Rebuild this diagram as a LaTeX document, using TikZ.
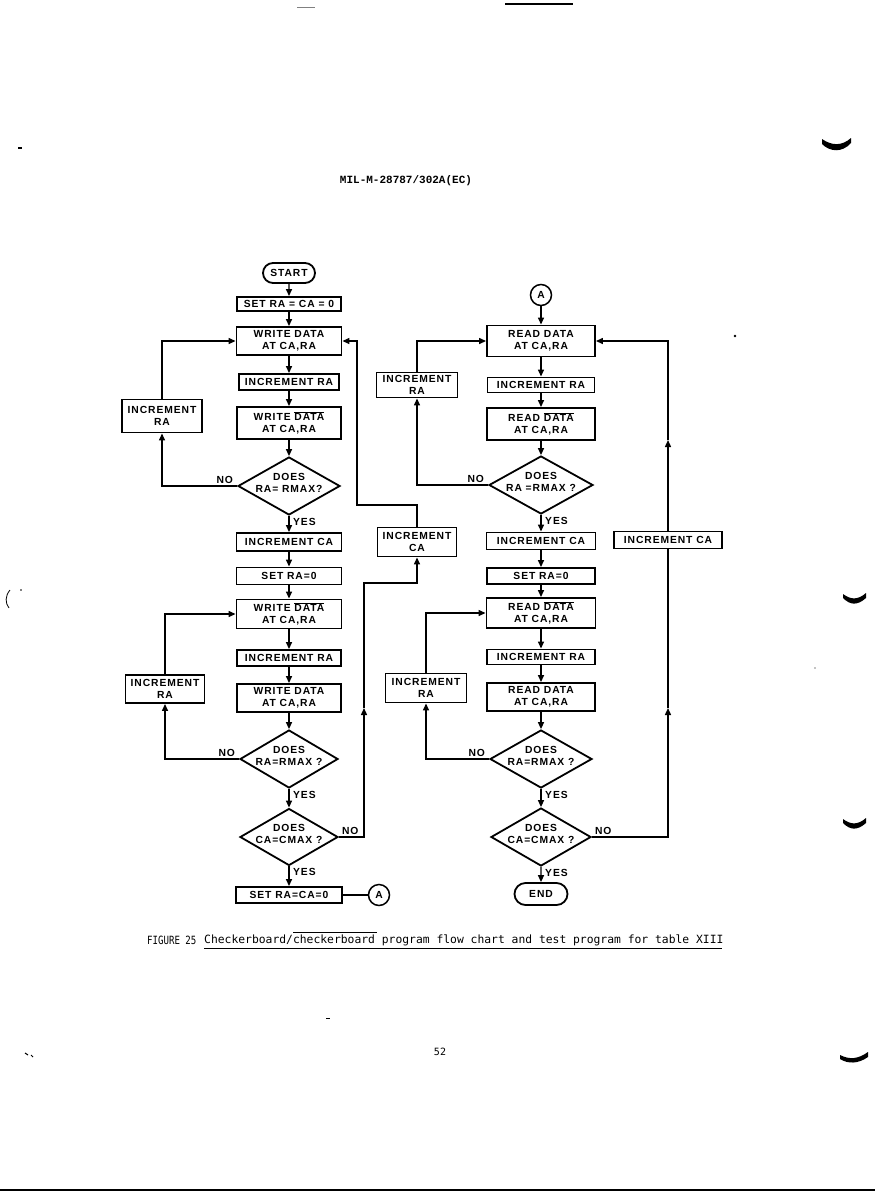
\documentclass[tikz,border=0pt]{standalone}
\usepackage{fontspec}
\newfontfamily\chartfont{Liberation Sans}[LetterSpace=9]
\newfontfamily\capfont{DejaVu Sans Mono}
\newfontfamily\hdrfont{Liberation Mono}
\usetikzlibrary{arrows.meta,shapes.geometric,shapes.misc}
\newcommand\chartsty{\chartfont\bfseries\fontsize{10.3}{11.8}\selectfont}
\newcommand\ovbar[1]{\vbox{\hrule height 0.8pt\kern1.2pt\hbox{#1}}}
\begin{document}
\begin{tikzpicture}[x=1pt,y=-1pt,
  box/.style={draw, line width=1.9pt, inner sep=0pt, align=center, font=\chartsty, fill=white},
  term/.style={draw, line width=1.8pt, rounded rectangle, inner sep=0pt, font=\chartsty},
  dia/.style={draw, diamond, line width=1.8pt, inner sep=0pt},
  conn/.style={draw, circle, line width=1.5pt, inner sep=0pt, minimum size=21pt, font=\chartsty},
  lbl/.style={font=\chartsty, inner sep=0pt, align=center},
  sz/.style 2 args={minimum width=#1pt, minimum height=#2pt},
  ln/.style={line width=1.4pt},
  arr/.style={line width=1.4pt, -{Triangle[length=7pt,width=6pt]}},
]
\useasboundingbox (0,0) rectangle (875,1192);
\fill[white] (0,0) rectangle (875,1192);

% header, caption, page number
\node[font=\hdrfont\bfseries\fontsize{11}{13}\selectfont, inner sep=0pt] (hdr) at (406,181) {MIL-M-28787/302A(EC)};
\node[font=\capfont\fontsize{11.35}{13}\selectfont, inner sep=0pt, anchor=west] (fig) at (147,940) {\scalebox{0.8}[1]{FIGURE 25}};
\node[font=\capfont\fontsize{11.35}{13}\selectfont, inner sep=0pt, anchor=west] (cap) at (204,940) {Checkerboard/checkerboard program flow chart and test program for table XIII};
\draw[line width=0.8pt] (204,948) -- (722,948);
\draw[line width=0.8pt] (293,932) -- (377,932);
\node[font=\capfont\fontsize{10}{12}\selectfont, inner sep=0pt] (pg) at (440,1052) {52};

% ---------- left column ----------
\node[term, sz={52}{20}] (start) at (289,273) {START};
\node[box, sz={104}{14}] (set) at (289,304) {SET RA = CA = 0};
\node[box, sz={105}{28}] (w1) at (289,341) {WRITE DATA\\AT CA,RA};
\node[box, sz={100}{16}] (i1) at (289,382) {INCREMENT RA};
\node[box, sz={104}{32}] (w2) at (289,423) {WRITE \ovbar{DATA}\\AT CA,RA};
\node[dia, sz={102}{58}] (d1) at (289,486) {};
\node[lbl] (d1t) at ([yshift=3pt]d1.center) {DOES\\RA= RMAX?};
\node[box, sz={80}{33}] (lb1) at (162,416) {INCREMENT\\RA};

\node[box, sz={105}{18}] (ic1) at (289,542) {INCREMENT CA};
\node[box, sz={105}{17}] (s01) at (289,576) {SET RA=0};
\node[box, sz={105}{29}] (w3) at (289,614) {WRITE \ovbar{DATA}\\AT CA,RA};
\node[box, sz={104}{16}] (i2) at (289,658) {INCREMENT RA};
\node[box, sz={104}{28}] (w4) at (289,698) {WRITE DATA\\AT CA,RA};
\node[dia, sz={98}{58}] (d2) at (289,759) {};
\node[lbl] (d2t) at ([yshift=3pt]d2.center) {DOES\\RA=RMAX ?};
\node[dia, sz={98}{57}] (d3) at (289,837) {};
\node[lbl] (d3t) at ([yshift=3pt]d3.center) {DOES\\CA=CMAX ?};
\node[box, sz={106}{16}] (sf) at (289,895) {SET RA=CA=0};
\node[conn] (A1) at (379,895) {A};
\node[box, sz={79}{28}] (lb2) at (165,689) {INCREMENT\\RA};

\node[box, sz={79}{29}] (mc) at (417,542) {INCREMENT\\CA};

% ---------- right column ----------
\node[conn] (A2) at (541,295) {A};
\node[box, sz={108}{31}] (r1) at (541,341) {READ DATA\\AT CA,RA};
\node[box, sz={107}{15}] (ri1) at (541,385) {INCREMENT RA};
\node[box, sz={108}{32}] (r2) at (541,424) {READ \ovbar{DATA}\\AT CA,RA};
\node[dia, sz={104}{58}] (rd1) at (541,485) {};
\node[lbl] (rd1t) at ([yshift=3pt]rd1.center) {DOES\\RA =RMAX ?};
\node[box, sz={81}{25}] (rlb1) at (417,385) {INCREMENT\\RA};

\node[box, sz={109}{17}] (ric) at (541,541) {INCREMENT CA};
\node[box, sz={108}{16}] (rs0) at (541,576) {SET RA=0};
\node[box, sz={109}{30}] (r3) at (541,613) {READ \ovbar{DATA}\\AT CA,RA};
\node[box, sz={108}{15}] (ri2) at (541,657) {INCREMENT RA};
\node[box, sz={108}{28}] (r4) at (541,697) {READ DATA\\AT CA,RA};
\node[dia, sz={102}{58}] (rd2) at (541,759) {};
\node[lbl] (rd2t) at ([yshift=3pt]rd2.center) {DOES\\RA=RMAX ?};
\node[dia, sz={100}{58}] (rd3) at (541,837) {};
\node[lbl] (rd3t) at ([yshift=3pt]rd3.center) {DOES\\CA=CMAX ?};
\node[term, sz={53}{22}] (end) at (541,894) {END};
\node[box, sz={81}{29}] (rlb2) at (426,688) {INCREMENT\\RA};
\node[box, sz={108}{17}] (far) at (668,540) {INCREMENT CA};

% ---------- connectors left ----------
\draw[arr] (start) -- (set);
\draw[arr] (set) -- (w1);
\draw[arr] (w1) -- (i1);
\draw[arr] (i1) -- (w2);
\draw[arr] (w2) -- (d1);
\draw[arr] (d1.west) -| (lb1.south);
\draw[arr] (lb1.north) |- (w1.west);
\draw[arr] (d1.south) -- (ic1);
\draw[arr] (ic1) -- (s01);
\draw[arr] (s01) -- (w3);
\draw[arr] (w3) -- (i2);
\draw[arr] (i2) -- (w4);
\draw[arr] (w4) -- (d2);
\draw[arr] (d2.west) -| (lb2.south);
\draw[arr] (lb2.north) |- (w3.west);
\draw[arr] (d2.south) -- (d3.north);
\draw[arr] (d3.south) -- (sf);
\draw[ln] (sf.east) -- (A1.west);

\coordinate (m1) at (357,505);
\draw[arr] (mc.north) |- (m1) |- (w1.east);
\coordinate (m2) at (364,708);
\coordinate (m3) at (417,583);
\draw[arr] (d3.east) -| (m2);
\draw[arr] (m2) |- (m3) -- (mc.south);

% ---------- connectors right ----------
\draw[arr] (A2) -- (r1);
\draw[arr] (r1) -- (ri1);
\draw[arr] (ri1) -- (r2);
\draw[arr] (r2) -- (rd1);
\draw[arr] (rd1.west) -| (rlb1.south);
\draw[arr] (rlb1.north) |- (r1.west);
\draw[arr] (rd1.south) -- (ric);
\draw[arr] (ric) -- (rs0);
\draw[arr] (rs0) -- (r3);
\draw[arr] (r3) -- (ri2);
\draw[arr] (ri2) -- (r4);
\draw[arr] (r4) -- (rd2);
\draw[arr] (rd2.west) -| (rlb2.south);
\draw[arr] (rlb2.north) |- (r3.west);
\draw[arr] (rd2.south) -- (rd3.north);
\draw[arr] (rd3.south) -- (end);

\coordinate (f1) at (668,708);
\coordinate (f2) at (668,440);
\draw[arr] (rd3.east) -| (f1);
\draw[ln] (f1) -- (far.south);
\draw[arr] (far.north) -- (f2);
\draw[arr] (f2) |- (r1.east);

% ---------- YES / NO labels ----------
\node[lbl, anchor=south east] (n1) at ([xshift=-4pt,yshift=2pt]d1.west) {NO};
\node[lbl, anchor=north west] (y1) at ([xshift=4pt,yshift=-2pt]d1.south) {YES};
\node[lbl, anchor=south east] (n2) at ([xshift=-4pt,yshift=2pt]d2.west) {NO};
\node[lbl, anchor=north west] (y2) at ([xshift=4pt,yshift=-2pt]d2.south) {YES};
\node[lbl, anchor=south west] (n3) at ([xshift=3pt,yshift=2pt]d3.east) {NO};
\node[lbl, anchor=north west] (y3) at ([xshift=4pt,yshift=-2pt]d3.south) {YES};
\node[lbl, anchor=south east] (n4) at ([xshift=-4pt,yshift=2pt]rd1.west) {NO};
\node[lbl, anchor=north west] (y4) at ([xshift=4pt,yshift=-2pt]rd1.south) {YES};
\node[lbl, anchor=south east] (n5) at ([xshift=-4pt,yshift=2pt]rd2.west) {NO};
\node[lbl, anchor=north west] (y5) at ([xshift=4pt,yshift=-2pt]rd2.south) {YES};
\node[lbl, anchor=south west] (n6) at ([xshift=3pt,yshift=2pt]rd3.east) {NO};
\node[lbl, anchor=north west] (y6) at ([xshift=4pt,yshift=-2pt]rd3.south) {YES};

% ---------- scan marks ----------
\draw[line width=0.8pt, gray] (297,7) -- (315,7);
\draw[line width=1.6pt] (505,4) -- (573,4);
\fill (822,139) .. controls (832,146) and (842,146) .. (851,138) -- (851,143) .. controls (842,153) and (830,152) .. (822,144) -- cycle;
\fill (843,594) .. controls (851,600) and (858,600) .. (866,593) -- (866,598) .. controls (857,606) and (850,605) .. (843,598) -- cycle;
\fill (843,819) .. controls (851,825) and (858,825) .. (866,818) -- (866,823) .. controls (857,831) and (850,830) .. (843,823) -- cycle;
\fill (840,1055) .. controls (850,1060) and (858,1059) .. (868,1052) -- (868,1057) .. controls (858,1064) and (848,1064) .. (840,1059) -- cycle;
\draw[line width=1.2pt] (18,148) -- (22,148);
\draw[line width=0.8pt] (10,590) .. controls (5,596) and (5,603) .. (9,608);
\fill (21,590) circle (0.8);
\draw[line width=1pt] (25,1053) -- (28,1055) (31,1055) -- (33,1057);
\fill (735,336) circle (1.3);
\fill (815,668) circle (0.7);
\draw[line width=0.6pt] (326,1018) -- (330,1018);
\draw[line width=1.2pt] (0,1190) -- (875,1190);
\end{tikzpicture}
\end{document}
